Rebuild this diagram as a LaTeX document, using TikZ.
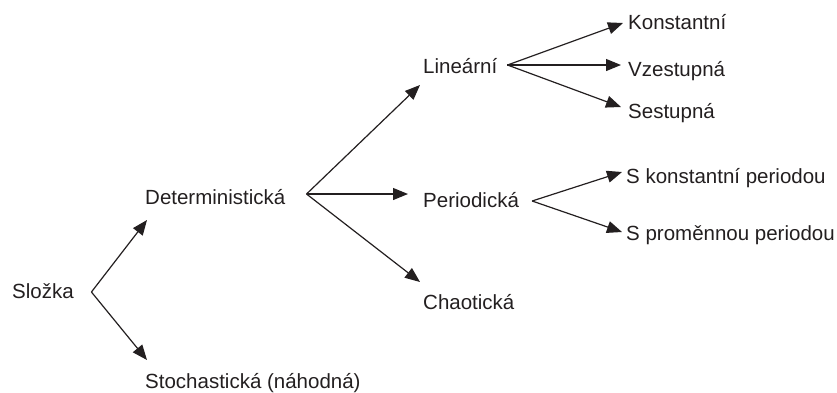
\documentclass[tikz,border=0pt]{standalone}
\usepackage{fontspec}
\setmainfont{Liberation Sans}
\usetikzlibrary{arrows.meta}
\definecolor{ink}{HTML}{231F20}
\begin{document}
\begin{tikzpicture}[x=1pt,y=-1pt,
  lbl/.style={anchor=base west,inner sep=0pt,text=ink,font=\fontsize{20.5}{24}\selectfont},
  arr/.style={draw=ink,line width=1.2pt,-{Triangle[length=15pt,width=12pt]}}]
\useasboundingbox (0,0) rectangle (837,392);
% labels
\node[lbl] (slozka) at (12,298) {Složka};
\node[lbl] (det)    at (145,204) {Deterministická};
\node[lbl] (stoch)  at (145,388) {Stochastická (náhodná)};
\node[lbl] (lin)    at (423,73)  {Lineární};
\node[lbl] (per)    at (423,207) {Periodická};
\node[lbl] (chaos)  at (423,309) {Chaotická};
\node[lbl] (konst)  at (628,29)  {Konstantní};
\node[lbl] (vzest)  at (628,76)  {Vzestupná};
\node[lbl] (sest)   at (628,118) {Sestupná};
\node[lbl] (skon)   at (626,183) {S konstantní periodou};
\node[lbl] (sprom)  at (626,240) {S proměnnou periodou};
% connectors
\draw[arr] ([shift={(17.5,-6)}]slozka.base east) -- ([shift={(2,16)}]det.base west);
\draw[arr] ([shift={(17.5,-6)}]slozka.base east) -- ([shift={(2,-28)}]stoch.base west);
\draw[arr] ([shift={(21,-10)}]det.base east) -- ([shift={(-3,12)}]lin.base west);
\draw[arr] ([shift={(21,-10)}]det.base east) -- ([shift={(-15,-13)}]per.base west);
\draw[arr] ([shift={(21,-10)}]det.base east) -- ([shift={(-3,-27)}]chaos.base west);
\draw[arr] ([shift={(10,-8)}]lin.base east) -- ([shift={(-5,-6)}]konst.base west);
\draw[arr] ([shift={(10,-8)}]lin.base east) -- ([shift={(-7,-11)}]vzest.base west);
\draw[arr] ([shift={(10,-8)}]lin.base east) -- ([shift={(-7,-11)}]sest.base west);
\draw[arr] ([shift={(13,-6)}]per.base east) -- ([shift={(-4,-11)}]skon.base west);
\draw[arr] ([shift={(13,-6)}]per.base east) -- ([shift={(-4,-8)}]sprom.base west);
\end{tikzpicture}
\end{document}
